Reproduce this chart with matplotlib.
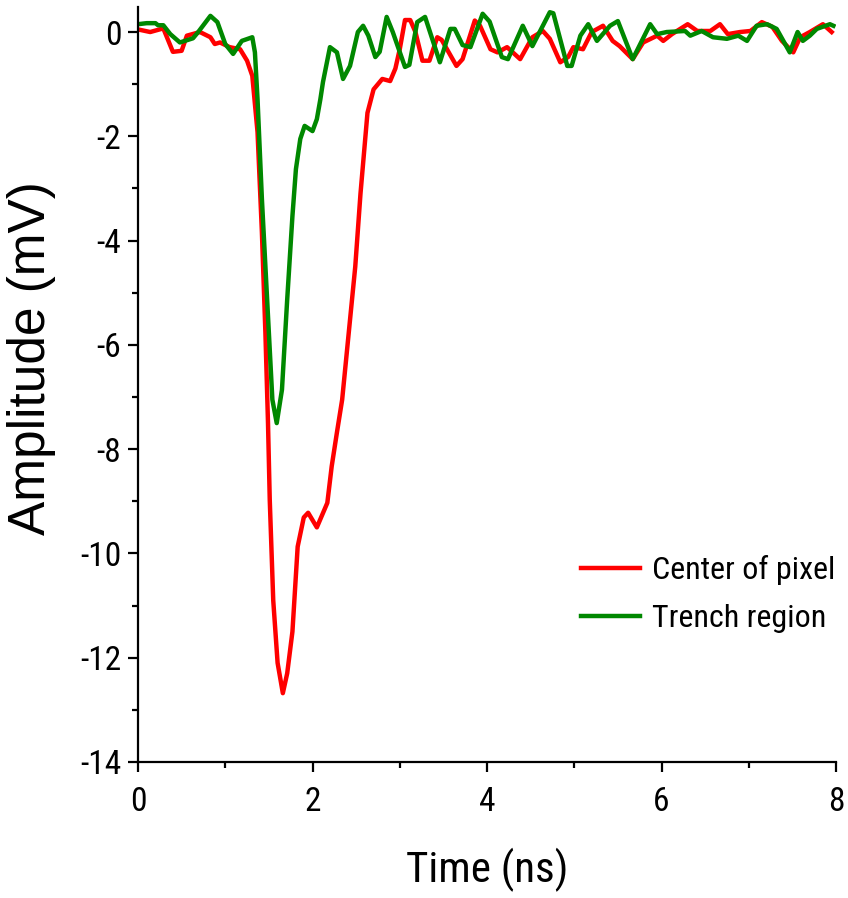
import matplotlib
matplotlib.use("Agg")
import matplotlib.pyplot as plt
from matplotlib.ticker import MultipleLocator

plt.rcParams["axes.unicode_minus"] = False

# ---- data ----
t_center = [0.00, 0.14, 0.29, 0.40, 0.50, 0.56, 0.71, 0.83, 0.88, 0.94, 1.05, 1.17, 1.25, 1.31,
            1.37, 1.42, 1.46, 1.49, 1.51, 1.55, 1.60, 1.66, 1.71, 1.77, 1.83, 1.90, 1.95, 2.05,
            2.17, 2.22, 2.28, 2.34, 2.40, 2.49, 2.55, 2.63, 2.70, 2.80, 2.89, 2.95, 3.00, 3.06,
            3.12, 3.18, 3.26, 3.34, 3.43, 3.48, 3.65, 3.72, 3.86, 3.92, 4.04, 4.12, 4.23, 4.38,
            4.52, 4.64, 4.72, 4.84, 4.93, 4.99, 5.10, 5.20, 5.33, 5.44, 5.52, 5.67, 5.79, 5.95,
            6.02, 6.12, 6.30, 6.41, 6.56, 6.67, 6.76, 6.90, 7.02, 7.15, 7.27, 7.38, 7.51, 7.59,
            7.70, 7.85, 7.95]
v_center = [0.05, 0.00, 0.07, -0.38, -0.36, -0.07, 0.00, -0.10, -0.23, -0.20, -0.29, -0.33, -0.55, -0.84,
            -1.92, -3.84, -5.76, -7.50, -8.97, -10.90, -12.10, -12.68, -12.30, -11.50, -9.87, -9.31, -9.22, -9.50,
            -9.03, -8.33, -7.68, -7.05, -6.03, -4.50, -3.10, -1.55, -1.10, -0.90, -0.94, -0.70, -0.33, 0.23,
            0.23, 0.00, -0.55, -0.55, -0.10, -0.15, -0.65, -0.52, 0.22, 0.12, -0.33, -0.39, -0.29, -0.52,
            -0.10, 0.02, -0.13, -0.58, -0.48, -0.29, -0.33, 0.00, 0.12, -0.17, -0.27, -0.52, -0.20, -0.07,
            -0.17, -0.04, 0.15, 0.02, 0.02, 0.15, -0.04, 0.00, 0.02, 0.19, 0.10, -0.17, -0.39, -0.10,
            0.00, 0.15, 0.00]

t_trench = [0.00, 0.10, 0.20, 0.23, 0.29, 0.37, 0.48, 0.63, 0.69, 0.83, 0.91, 1.00, 1.09, 1.19,
            1.31, 1.34, 1.37, 1.42, 1.48, 1.54, 1.59, 1.65, 1.71, 1.77, 1.81, 1.86, 1.91, 2.00,
            2.05, 2.09, 2.12, 2.20, 2.28, 2.35, 2.43, 2.52, 2.58, 2.64, 2.72, 2.77, 2.85, 2.92,
            3.06, 3.11, 3.20, 3.29, 3.46, 3.58, 3.63, 3.72, 3.81, 3.95, 4.03, 4.17, 4.24, 4.41,
            4.52, 4.72, 4.76, 4.92, 4.97, 5.07, 5.16, 5.26, 5.41, 5.50, 5.67, 5.87, 5.95, 6.06,
            6.27, 6.33, 6.46, 6.59, 6.75, 6.88, 6.98, 7.09, 7.21, 7.32, 7.47, 7.56, 7.62, 7.70,
            7.78, 7.93, 7.97]
v_trench = [0.15, 0.17, 0.17, 0.13, 0.13, -0.04, -0.20, -0.12, 0.00, 0.31, 0.19, -0.23, -0.42, -0.17,
            -0.10, -0.39, -1.29, -3.20, -5.13, -7.05, -7.50, -6.86, -5.13, -3.53, -2.63, -2.05, -1.80, -1.90,
            -1.67, -1.29, -0.96, -0.29, -0.39, -0.90, -0.65, 0.00, 0.12, -0.07, -0.48, -0.38, 0.29, 0.00,
            -0.67, -0.63, 0.19, 0.29, -0.58, 0.06, 0.06, -0.25, -0.29, 0.35, 0.20, -0.48, -0.52, 0.12,
            -0.27, 0.38, 0.36, -0.65, -0.65, -0.07, 0.15, -0.17, 0.12, 0.21, -0.52, 0.15, -0.04, 0.00,
            0.02, -0.07, 0.02, -0.10, -0.13, -0.07, -0.17, 0.12, 0.15, 0.06, -0.39, 0.00, -0.17, -0.07,
            0.06, 0.15, 0.12]

labels = ["Center of pixel", "Trench region"]
colors = ["#ff0000", "#008800"]

narrow = ["Roboto Condensed", "Liberation Sans Narrow", "Liberation Sans", "DejaVu Sans"]
regular = ["Liberation Sans", "DejaVu Sans"]

fig = plt.figure(figsize=(8.48, 8.98), dpi=100)
ax = fig.add_axes([138 / 848, 1 - 762 / 898, (836 - 138) / 848, (762 - 7) / 898])

ax.plot(t_center, v_center, color=colors[0], lw=3.2, label=labels[0], solid_joinstyle="round")
ax.plot(t_trench, v_trench, color=colors[1], lw=3.2, label=labels[1], solid_joinstyle="round")

ax.set_xlim(0, 8)
ax.set_ylim(-14, 0.48)
ax.xaxis.set_major_locator(MultipleLocator(2))
ax.xaxis.set_minor_locator(MultipleLocator(1))
ax.yaxis.set_major_locator(MultipleLocator(2))
ax.yaxis.set_minor_locator(MultipleLocator(1))

for s in ["top", "right"]:
    ax.spines[s].set_visible(False)
for s in ["left", "bottom"]:
    ax.spines[s].set_linewidth(1.6)

ax.tick_params(which="major", direction="out", length=7, width=1.6)
ax.tick_params(which="minor", direction="out", length=4, width=1.6)
ax.tick_params(axis="x", which="major", pad=10)
ax.tick_params(axis="y", which="major", pad=5)

for lab in ax.get_xticklabels() + ax.get_yticklabels():
    lab.set_fontfamily(narrow)
    lab.set_fontsize(24)

ax.set_xlabel("Time (ns)", fontfamily=narrow, fontsize=31, labelpad=22)
ax.set_ylabel("Amplitude (mV)", fontfamily=regular, fontsize=37)
ax.yaxis.set_label_coords(-0.117, 0.535)

leg = ax.legend(loc="upper left", bbox_to_anchor=(0.634, 0.274), frameon=False,
                prop={"family": narrow, "size": 23}, handlelength=1.85, handletextpad=0.4,
                labelspacing=0.6, borderaxespad=0, borderpad=0)

fig.savefig("out.png", dpi=100)
